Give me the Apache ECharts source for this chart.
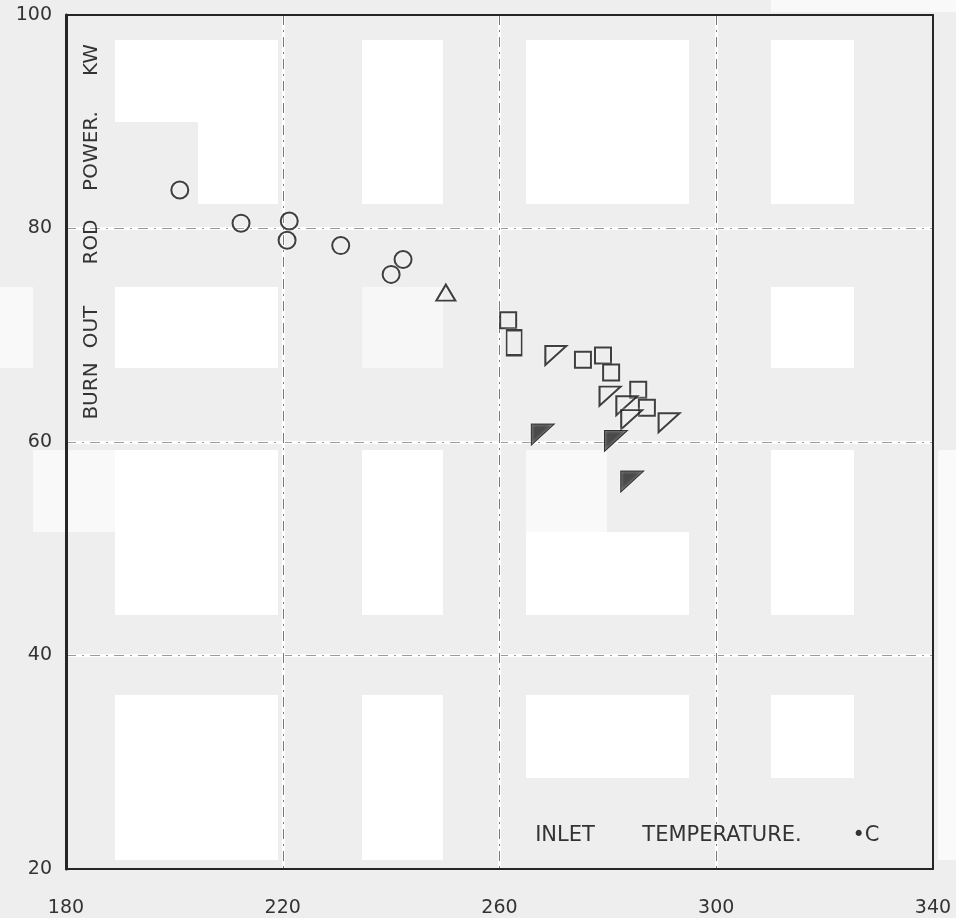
<!DOCTYPE html>
<html>
<head>
<meta charset="utf-8">
<script src="https://cdn.jsdelivr.net/npm/echarts@6/dist/echarts.min.js"></script>
<style>
html,body{margin:0;padding:0;background:#eeeeee;}
#chart{width:956px;height:918px;}
</style>
</head>
<body>
<div id="chart"></div>
<script>
// ---- data (inlet temperature °C, burn-out rod power kW) ----
const xTicks = [180, 220, 260, 300, 340];
const yTicks = [20, 40, 60, 80, 100];

const circleT = [201.0, 212.3, 221.2, 220.8, 230.7, 242.2, 240.0];
const circleP = [83.6, 80.5, 80.7, 78.9, 78.4, 77.1, 75.7];

const triUpT = [250.1];
const triUpP = [74.0];

const squareT = [261.6, 262.7, 275.4, 279.1, 280.6, 285.6, 287.2];
const squareP = [71.4, 69.3, 67.7, 68.1, 66.5, 64.9, 63.2];

const openWedgeT = [270.4, 280.4, 283.5, 284.4, 291.3];
const openWedgeP = [68.1, 64.3, 63.4, 62.1, 61.8];

const filledWedgeT = [268.0, 281.5, 284.5];
const filledWedgeP = [60.7, 60.1, 56.3];

const xLabelWords = ['INLET', 'TEMPERATURE.', '•C'];
const yLabelWords = ['BURN', 'OUT', 'ROD', 'POWER.', 'KW'];

function pairs(xs, ys) { return xs.map((x, i) => [x, ys[i]]); }

const ink = '#262626';
const markInk = '#111111';
const wedge = 'path://M0,0L10,0L0,10Z';
const FONT = 'DejaVu Sans';

// scan background patches (decoration)
const patches = [
  [115,40,163,82,'#fff'],[198,122,80,82,'#fff'],[362,40,81,164,'#fff'],[526,40,163,164,'#fff'],[771,40,83,164,'#fff'],
  [115,287,163,81,'#fff'],[0,287,33,81,'#f9f9f9'],[362,287,81,81,'#f7f7f7'],[771,287,83,81,'#fff'],
  [115,450,163,165,'#fff'],[33,450,82,82,'#f9f9f9'],[362,450,81,165,'#fff'],[526,450,81,82,'#f9f9f9'],[526,532,163,83,'#fff'],[771,450,83,165,'#fff'],
  [115,695,163,165,'#fff'],[362,695,81,165,'#fff'],[526,695,163,83,'#fff'],[771,695,83,83,'#fff'],
  [938,450,18,410,'#fafafa'],[771,0,185,12,'#f9f9f9']
];

const graphics = patches.map(p => ({
  type: 'rect', z: -10, silent: true,
  shape: {x: p[0], y: p[1], width: p[2], height: p[3]},
  style: {fill: p[4]}
}));

const xWordPos = [565, 722, 866];
xLabelWords.forEach((w, i) => {
  graphics.push({type: 'text', z: 50, x: xWordPos[i], y: 836,
    style: {text: w, font: '21px "' + FONT + '"', fill: '#333', textAlign: 'center', textVerticalAlign: 'middle'}});
});
const yWordPos = [391, 327, 242, 151, 60];
yLabelWords.forEach((w, i) => {
  graphics.push({type: 'text', z: 50, x: 92, y: yWordPos[i], rotation: Math.PI / 2,
    style: {text: w, font: '20px "' + FONT + '"', fill: '#333', textAlign: 'center', textVerticalAlign: 'middle'}});
});

const grid = {left: 66, right: 23, top: 15, bottom: 49};

const halo = {shadowBlur: 3, shadowColor: 'rgba(255,255,255,0.9)'};

const option = {
  backgroundColor: '#eeeeee',
  animation: false,
  grid: grid,
  graphic: graphics,
  xAxis: [{
    type: 'value', min: xTicks[0], max: xTicks[xTicks.length - 1], interval: 40, position: 'bottom',
    axisLine: {show: true, onZero: false, lineStyle: {color: ink, width: 2}}, axisTick: {show: false},
    axisLabel: {margin: 30, fontSize: 19, fontFamily: FONT, color: '#333'},
    splitLine: {show: true, showMinLine: false, showMaxLine: false, lineStyle: {color: '#ffffff', width: 3}}
  }, {
    type: 'value', min: xTicks[0], max: xTicks[xTicks.length - 1], interval: 40, position: 'top',
    axisLine: {show: true, onZero: false, lineStyle: {color: ink, width: 2}}, axisTick: {show: false}, axisLabel: {show: false},
    splitLine: {show: true, showMinLine: false, showMaxLine: false, lineStyle: {color: '#777', width: 1, type: [10, 5, 2, 5]}}
  }],
  yAxis: [{
    type: 'value', min: yTicks[0], max: yTicks[yTicks.length - 1], interval: 20, position: 'left',
    axisLine: {show: true, onZero: false, lineStyle: {color: ink, width: 3}}, axisTick: {show: false},
    axisLabel: {margin: 14, fontSize: 19, fontFamily: FONT, color: '#333'},
    splitLine: {show: true, showMinLine: false, showMaxLine: false, lineStyle: {color: '#ffffff', width: 3}}
  }, {
    type: 'value', min: yTicks[0], max: yTicks[yTicks.length - 1], interval: 20, position: 'right',
    axisLine: {show: true, onZero: false, lineStyle: {color: ink, width: 2}}, axisTick: {show: false}, axisLabel: {show: false},
    splitLine: {show: true, showMinLine: false, showMaxLine: false, lineStyle: {color: '#999', width: 1, type: [10, 6, 2, 6]}}
  }],
  series: [
    {type: 'scatter', data: pairs(circleT, circleP), symbol: 'circle', symbolSize: 17,
     itemStyle: Object.assign({color: 'rgba(0,0,0,0)', borderColor: markInk, borderWidth: 2}, halo), z: 5},
    {type: 'scatter', data: pairs(triUpT, triUpP), symbol: 'triangle', symbolSize: [19, 16],
     itemStyle: Object.assign({color: 'rgba(0,0,0,0)', borderColor: markInk, borderWidth: 2}, halo), z: 5},
    {type: 'scatter', data: pairs(squareT, squareP), symbol: 'rect',
     symbolSize: function (v, p) { return p.dataIndex === 1 ? [15, 25] : 16; },
     itemStyle: Object.assign({color: 'rgba(0,0,0,0)', borderColor: markInk, borderWidth: 2}, halo), z: 5},
    {type: 'scatter', data: pairs(openWedgeT, openWedgeP), symbol: wedge, symbolSize: [21, 19], symbolKeepAspect: false,
     itemStyle: Object.assign({color: 'rgba(0,0,0,0)', borderColor: markInk, borderWidth: 2}, halo), z: 5},
    {type: 'scatter', data: pairs(filledWedgeT, filledWedgeP), symbol: wedge, symbolSize: [23, 21], symbolKeepAspect: false,
     itemStyle: Object.assign({color: '#1e1e1e', borderColor: markInk, borderWidth: 1}, halo), z: 6}
  ]
};

const chart = echarts.init(document.getElementById('chart'), null, {renderer: 'canvas'});
chart.setOption(option);
</script>
</body>
</html>
